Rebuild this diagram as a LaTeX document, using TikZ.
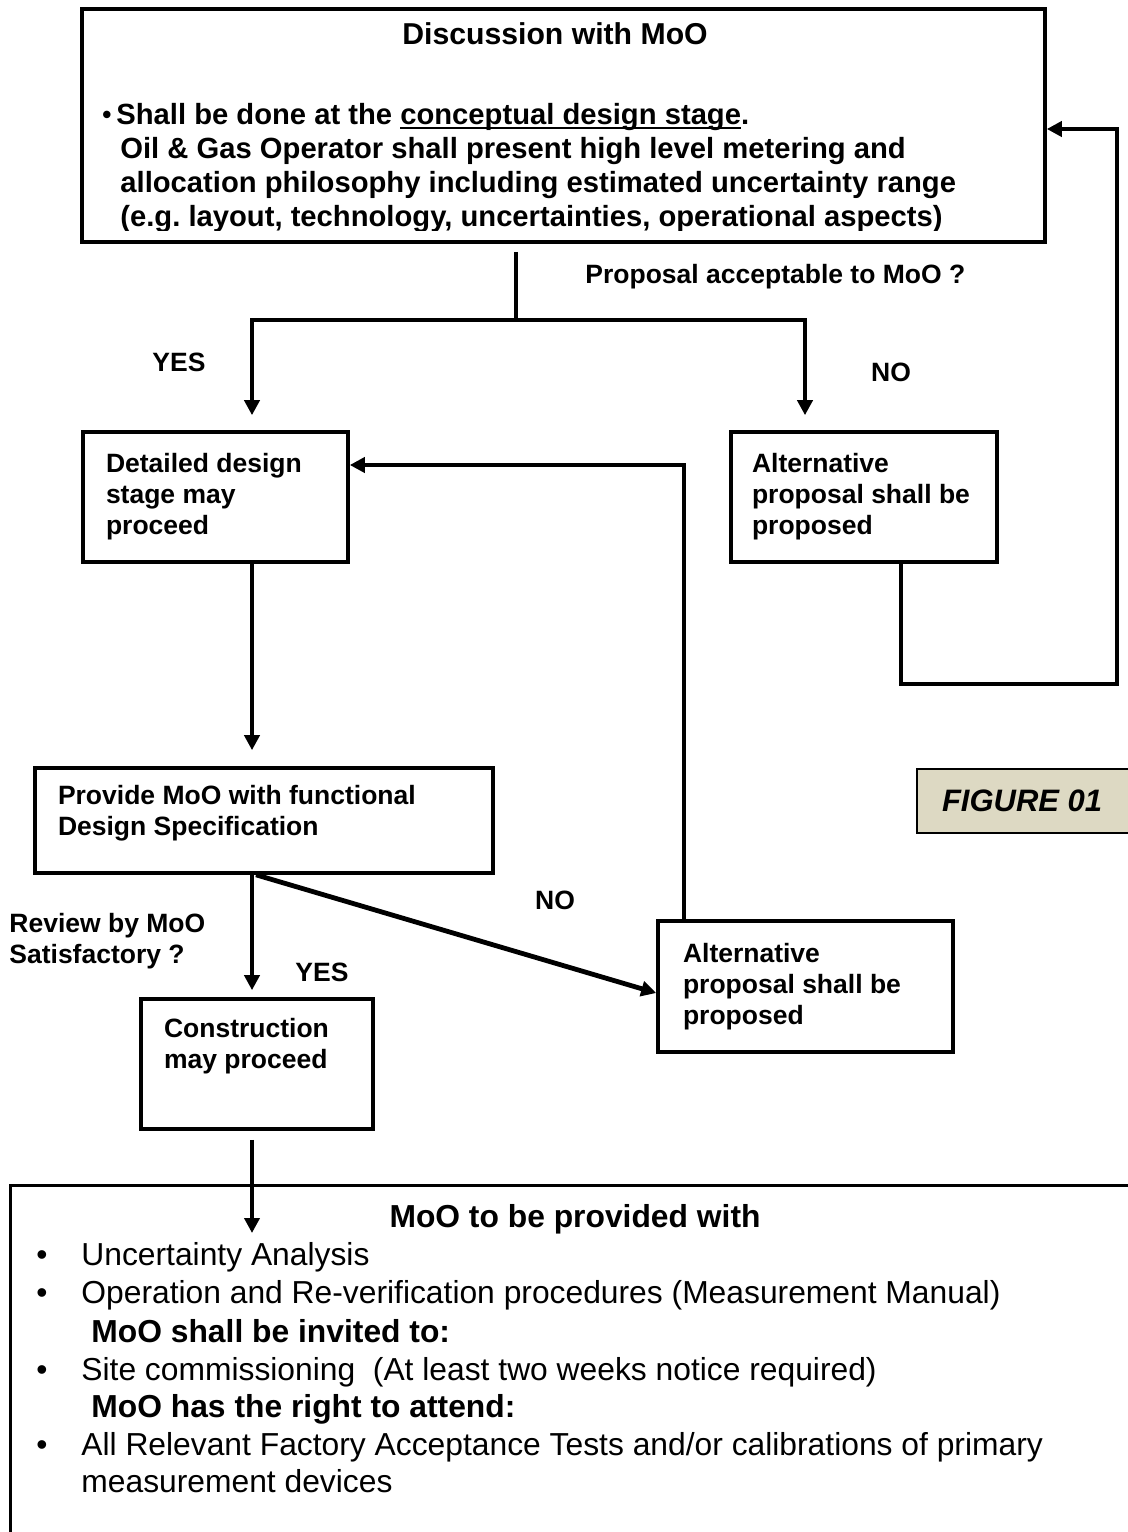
\documentclass[tikz,border=0pt]{standalone}
\usepackage{fontspec}
\setmainfont{Liberation Sans}
\usepackage{tikz}
\usetikzlibrary{
  arrows.meta,
  positioning,
  calc
}
\definecolor{figfill}{HTML}{DDD9C3}
\frenchspacing
\newcommand\flowfont{\fontsize{13.25}{15.5}\selectfont\bfseries}
\newcommand\discfont{\fontsize{14.6}{16.5}\selectfont\bfseries}
\newcommand\infofont{\fontsize{15.9}{19}\selectfont}
\newcommand\ulthick[1]{\setbox0\hbox{#1}\rlap{\rule[-2.6pt]{\wd0}{1pt}}\box0}

\begin{document}
\begin{tikzpicture}[
  x=0.5pt, y=-0.5pt,
  line/.style={line width=2pt},
  arr/.style={line width=2pt, -{Triangle[length=7.5pt,width=7.5pt]}},
  flowB/.style={
    draw, line width=1.8pt, align=flush left, inner xsep=11.5pt, inner ysep=0pt,
    font=\flowfont,
  },
  lbl/.style={font=\flowfont, inner sep=0pt},
  discL/.style={font=\discfont, anchor=base west, inner sep=0pt},
  infoL/.style={font=\infofont, anchor=base west, inner sep=0pt},
]
\path[use as bounding box, fill=white] (0,0) rectangle (1128,1532);

% Top box - discussion
\node[draw, line width=1.8pt, minimum width=481.5pt, minimum height=116.5pt, inner sep=0pt] (disc) at (563.5,125.5) {};
\begin{scope}
  \clip (84,11) rectangle (1043,230);
  \node[font=\fontsize{15.1}{18}\selectfont\bfseries, anchor=base, inner sep=0pt] (discT) at (555,44) {Discussion with MoO};
  \node[discL, font=\fontsize{13}{14}\selectfont\bfseries] (discB) at (102,123) {•};
  \node[discL] (disc1) at (116,124) {Shall be done at the \ulthick{conceptual design stage}.};
  \node[discL] (disc2) at (120,158) {Oil \& Gas Operator shall present high level metering and};
  \node[discL] (disc3) at (120,192) {allocation philosophy including estimated uncertainty range};
  \node[discL] (disc4) at (120,226) {(e.g. layout, technology, uncertainties, operational aspects)};
\end{scope}

% Flow boxes
\node[flowB, text width=109.5pt, minimum height=65pt] (det) at (215.5,497) {Detailed design\\stage may\\proceed};
\node[flowB, text width=112pt, inner xsep=10.5pt, minimum height=65pt] (alt1) at (864,497) {Alternative\\proposal shall be\\proposed};
\node[flowB, text width=206pt, minimum height=52.5pt] (spec) at (264,820.5) {Provide MoO with functional\\Design Specification\\[-5.7pt]\mbox{}};
\node[flowB, text width=93pt, minimum height=65pt] (con) at (257,1064) {Construction\\may proceed\\\strut};
\node[flowB, text width=122.5pt, inner xsep=12.5pt, minimum height=65.5pt] (alt2) at (805.5,986.5) {Alternative\\proposal shall be\\proposed};

% Figure tag
\node[draw, line width=1pt, fill=figfill, minimum width=111.5pt, minimum height=32pt, text width=86.5pt, inner xsep=12.5pt, align=flush left, font=\fontsize{15.5}{18}\selectfont\bfseries\itshape] (fig) at (1028.5,801) {FIGURE 01};

% Labels
\node[lbl, anchor=west] (propQ) at (585,277) {Proposal acceptable to MoO ?};
\node[lbl] (yes1) at (179,362) {YES};
\node[lbl] (no1) at (891,372) {NO};
\node[lbl] (no2) at (555,900) {NO};
\node[lbl] (yes2) at (322,972) {YES};
\node[lbl, anchor=west, align=flush left] (revQ) at (9,941) {Review by MoO\\Satisfactory ?};

% Bottom box - what MoO gets
\node[draw, line width=1.5pt, minimum width=565pt, minimum height=180pt, inner sep=0pt] (info) at (575,1365) {};
\node[font=\infofont\bfseries, anchor=base, inner sep=0pt] (infoT) at (575,1227) {MoO to be provided with};
\node[infoL] (b1) at (36,1265) {•};
\node[infoL] (i1) at (81,1265) {Uncertainty Analysis};
\node[infoL] (b2) at (36,1303) {•};
\node[infoL] (i2) at (81,1303) {Operation and Re-verification procedures (Measurement Manual)};
\node[infoL, font=\infofont\bfseries] (h1) at (91,1342) {MoO shall be invited to:};
\node[infoL] (b3) at (36,1380) {•};
\node[infoL] (i3) at (81,1380) {Site commissioning\ \ (At least two weeks notice required)};
\node[infoL, font=\infofont\bfseries] (h2) at (91,1417) {MoO has the right to attend:};
\node[infoL] (b4) at (36,1455) {•};
\node[infoL] (i4) at (81,1455) {All Relevant Factory Acceptance Tests and/or calibrations of primary};
\node[infoL] (i5) at (81,1492) {measurement devices};

% Connectors
\coordinate (split) at (516,320);
\coordinate (yesdrop) at (252,320);
\coordinate (nodrop) at (805,320);
\coordinate (loopa) at (684,465);
\coordinate (loopb) at (901,684);
\coordinate (loopc) at (1117,129);
\coordinate (infoin) at (252,1233);

\draw[line, shorten <=4pt] (disc.south -| split) -- (split);
\draw[arr, shorten >=7.5pt] (split) -| (yesdrop |- det.north);
\draw[arr, shorten >=7.5pt] (split) -| (nodrop |- alt1.north);
\draw[arr, shorten >=8pt] (det.south -| yesdrop) -- (spec.north -| yesdrop);
\draw[arr, shorten >=3.5pt] (spec.south -| yesdrop) -- (con.north -| yesdrop);
\draw[arr, line width=2.4pt] ([xshift=2pt]spec.south -| yesdrop) -- ([yshift=-3.25pt]alt2.west);
\draw[arr, shorten <=4.5pt] (con.south -| yesdrop) -- (infoin);
\draw[arr] (alt2.north -| loopa) -- (loopa) -- (det.east |- loopa);
\draw[arr] (alt1.south -| loopb) -- (loopb) -| (loopc) -- (disc.east |- loopc);

\end{tikzpicture}
\end{document}
